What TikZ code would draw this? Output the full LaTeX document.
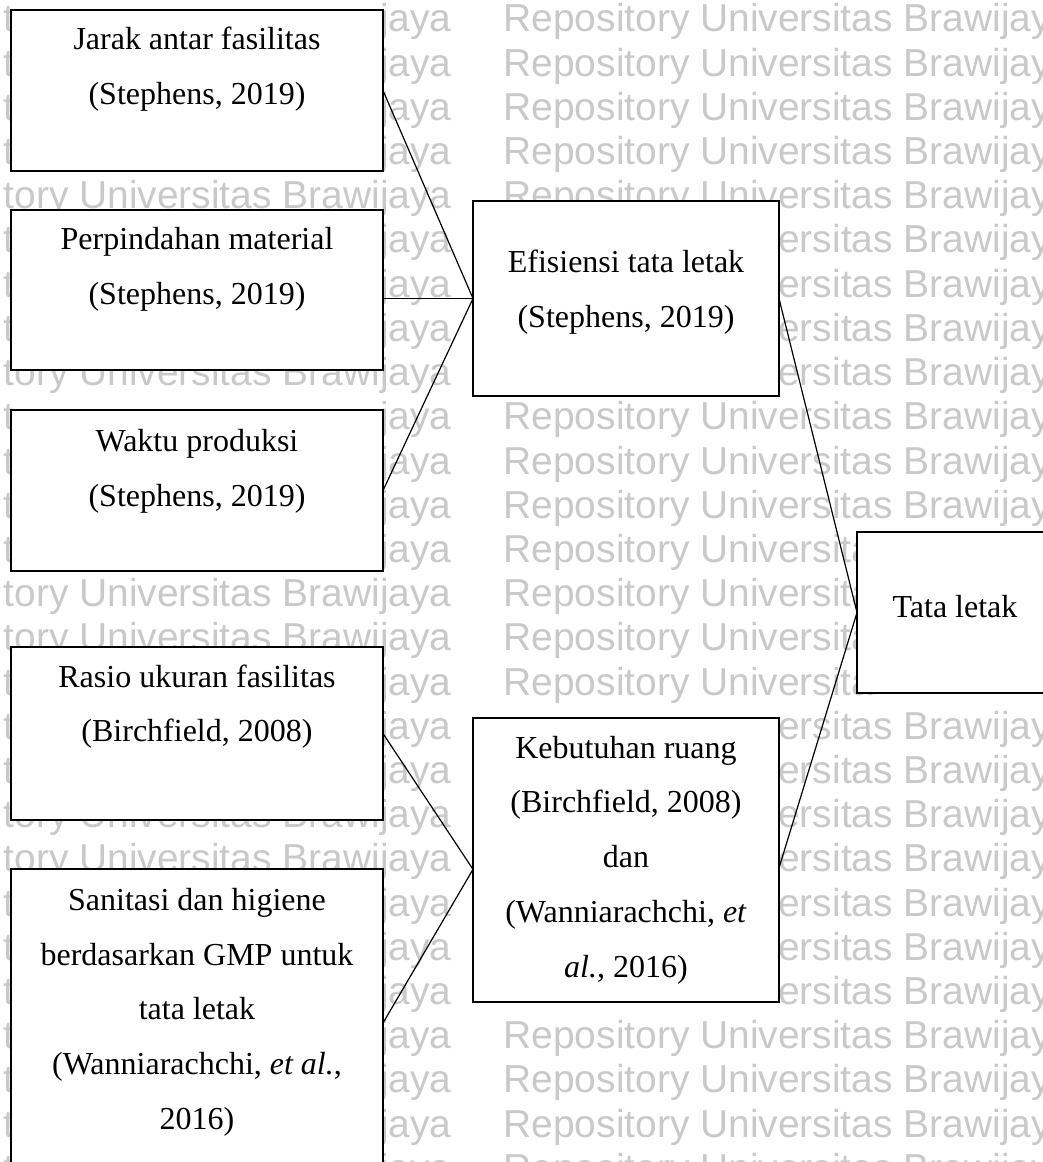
\documentclass[tikz,border=0pt]{standalone}
\usepackage{fontspec}
\setmainfont{Liberation Serif}
\newfontfamily\wmfont{Liberation Sans}
\newcommand{\isi}[4]{\parbox[c][#2][t]{#1}{\centering\fontsize{12pt}{20.6pt}\selectfont\rule{0pt}{#3}#4}}

\begin{document}
\begin{tikzpicture}[x=0.375pt,y=-0.375pt,
    kotak/.style={draw,line width=0.75pt,fill=white,inner sep=0pt,outer sep=0pt,anchor=north west},
    garis/.style={line width=0.45pt},
    wm/.style={anchor=base west,inner sep=0pt,text=black!21,font=\wmfont\fontsize{14.6pt}{14.6pt}\selectfont}]

      \useasboundingbox (0,0) rectangle (1042,1162);
      \fill[white] (0,0) rectangle (1042,1162);

      % watermark, left column
      \foreach \n in {4,8,13,14,18,19}
         \node[wm] (wmkiri\n) at (-118,{32+44.2*\n}) {\phantom{Reposi}tory Universitas Brawijaya};
      \foreach \n in {0,1,2,3,5,6,7,9,10,11,12,15,16,17,20,21,22,23,24,25,26}
         \node[wm] (wmkiri\n) at (-118,{32+44.2*\n}) {\phantom{Reposi}t\phantom{ory Universitas Brawi}jaya};
      % watermark, right column
      \foreach \n in {0,1,2,3,4,9,10,11,23,24,25,26}
         \node[wm] (wmkanan\n) at (503,{32+44.2*\n}) {Repository Universitas Brawijay};
      \foreach \n in {5,6,7,8,16,17,18,19,20,21,22}
         \node[wm] (wmkanan\n) at (503,{32+44.2*\n}) {\phantom{Repository Univ}ersitas Brawijay};
      \foreach \n in {12,13,14,15}
         \node[wm] (wmkanan\n) at (503,{32+44.2*\n}) {Repository Universita};

      \node[kotak] (jarak) at (11,10) {\isi{139.5pt}{60.375pt}{15pt}{Jarak antar fasilitas\\(Stephens, 2019)}};
      \node[kotak] (pindah) at (11,210) {\isi{139.5pt}{60pt}{15pt}{Perpindahan material\\(Stephens, 2019)}};
      \node[kotak] (waktu) at (11,410) {\isi{139.5pt}{60.375pt}{15.5pt}{Waktu produksi\\(Stephens, 2019)}};
      \node[kotak] (rasio) at (11,647) {\isi{139.5pt}{64.875pt}{15pt}{Rasio ukuran fasilitas\\(Birchfield, 2008)}};
      \node[kotak] (sanitasi) at (11,869) {\isi{139.5pt}{115.5pt}{15.4pt}{Sanitasi dan higiene\\berdasarkan GMP untuk\\tata letak\\(Wanniarachchi, \textit{et al.},\\2016)}};

      \node[kotak] (efisiensi) at (473,201) {\isi{114.75pt}{73.125pt}{27pt}{Efisiensi tata letak\\(Stephens, 2019)}};
      \node[kotak] (kebutuhan) at (473,718) {\isi{114.75pt}{106.5pt}{15pt}{Kebutuhan ruang\\(Birchfield, 2008)\\dan\\(Wanniarachchi, \textit{et}\\\textit{al.}, 2016)}};

      \node[kotak] (tata) at (857,532) {\isi{73.5pt}{60.375pt}{31.9pt}{Tata letak}};

      \draw[garis] (jarak.east) -- (efisiensi.west);
      \draw[garis] (efisiensi.west -| pindah.east) -- (efisiensi.west);
      \draw[garis] (waktu.east) -- (efisiensi.west);
      \draw[garis] (rasio.east) -- ([yshift=-3.5pt]kebutuhan.west);
      \draw[garis] (sanitasi.east) -- ([yshift=-3.5pt]kebutuhan.west);
      \draw[garis] (efisiensi.east) -- (tata.west);
      \draw[garis] ([yshift=-3pt]kebutuhan.east) -- (tata.west);

\end{tikzpicture}
\end{document}
